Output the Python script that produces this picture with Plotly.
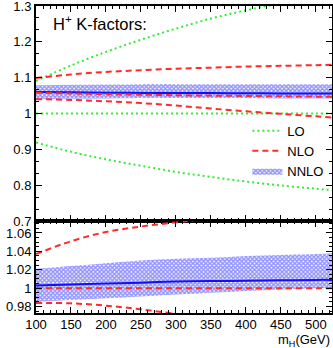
import plotly.graph_objects as go

# m_H grid (GeV)
mass = [100, 150, 200, 250, 300, 350, 400, 450, 500, 523]

# upper panel: K-factors
lo_up = [1.091, 1.134, 1.172, 1.206, 1.237, 1.265, 1.288, 1.308, 1.326, 1.334]
lo_mid = [1.0, 1.0, 1.0, 1.0, 1.0, 1.0, 1.0, 1.0, 1.0, 1.0]
lo_dn = [0.919, 0.893, 0.872, 0.854, 0.837, 0.823, 0.810, 0.799, 0.790, 0.786]
nlo_up = [1.099, 1.109, 1.116, 1.121, 1.125, 1.128, 1.131, 1.133, 1.135, 1.136]
nlo_c = [1.058, 1.056, 1.054, 1.0525, 1.051, 1.050, 1.049, 1.048, 1.047, 1.0465]
nlo_dn = [1.040, 1.038, 1.034, 1.029, 1.022, 1.014, 1.006, 0.999, 0.992, 0.989]
nnlo_c = [1.060, 1.059, 1.058, 1.0575, 1.057, 1.057, 1.0565, 1.056, 1.056, 1.056]
nnlo_lo = [1.040, 1.041, 1.042, 1.043, 1.043, 1.043, 1.043, 1.042, 1.042, 1.042]
nnlo_hi = [1.079, 1.080, 1.081, 1.082, 1.082, 1.082, 1.082, 1.082, 1.082, 1.082]

# lower panel: normalised to NLO central
r_nlo_up = [1.037, 1.051, 1.061, 1.067, 1.0715, 1.076, 1.080, 1.083, 1.086, 1.087]
r_nlo_c = [1.0, 1.0, 1.0, 1.0, 1.0, 1.0, 1.0, 1.0, 1.0, 1.0]
r_nlo_dn = [0.984, 0.9835, 0.981, 0.977, 0.972, 0.966, 0.960, 0.955, 0.950, 0.948]
r_nnlo_c = [1.0028, 1.004, 1.005, 1.006, 1.0072, 1.0078, 1.008, 1.0085, 1.009, 1.009]
r_nnlo_lo = [0.985, 0.987, 0.989, 0.991, 0.993, 0.995, 0.997, 0.9985, 1.0, 1.0005]
r_nnlo_hi = [1.021, 1.024, 1.027, 1.030, 1.032, 1.033, 1.035, 1.036, 1.037, 1.038]

GREEN = "#33ee33"
RED = "#ff2a2a"
BLUE = "#1010ff"
pattern = dict(shape="x", fgcolor="#2a2aff", bgcolor="white", size=3, solidity=0.75)

fig = go.Figure()


def band(lo, hi, xa, ya, show):
    fig.add_trace(go.Scatter(x=mass, y=lo, mode="lines", line=dict(width=0, shape="spline"),
                             xaxis=xa, yaxis=ya, showlegend=False, hoverinfo="skip"))
    fig.add_trace(go.Scatter(x=mass, y=hi, mode="lines", line=dict(width=0, shape="spline"),
                             fill="tonexty", fillcolor="rgba(60,60,255,0.7)", fillpattern=pattern,
                             xaxis=xa, yaxis=ya, name="NNLO", showlegend=show,
                             legendrank=3, legendgroup="nnlo"))


def curve(y, color, dash, xa, ya, name=None, rank=1):
    fig.add_trace(go.Scatter(x=mass, y=y, mode="lines",
                             line=dict(color=color, width=2, dash=dash, shape="spline"),
                             xaxis=xa, yaxis=ya, name=name, showlegend=name is not None,
                             legendrank=rank, legendgroup=name))


# upper panel
band(nnlo_lo, nnlo_hi, "x", "y", True)
curve(nnlo_c, BLUE, "solid", "x", "y")
curve(lo_up, GREEN, "2px,3px", "x", "y")
curve(lo_mid, GREEN, "2px,3px", "x", "y", "LO", 1)
curve(lo_dn, GREEN, "2px,3px", "x", "y")
curve(nlo_up, RED, "6px,4px", "x", "y")
curve(nlo_c, RED, "6px,4px", "x", "y", "NLO", 2)
curve(nlo_dn, RED, "6px,4px", "x", "y")

# lower panel
band(r_nnlo_lo, r_nnlo_hi, "x2", "y2", False)
curve(r_nnlo_c, BLUE, "solid", "x2", "y2")
curve(r_nlo_up, RED, "6px,4px", "x2", "y2")
curve(r_nlo_c, RED, "6px,4px", "x2", "y2")
curve(r_nlo_dn, RED, "6px,4px", "x2", "y2")

split = 92 / 307
ax = dict(showline=True, linecolor="black", linewidth=2, mirror="allticks", ticks="inside",
          tickcolor="black", tickwidth=1, showgrid=False, zeroline=False, automargin=False,
          ticklabeloverflow="allow",
          tickfont=dict(family="Liberation Sans, Arial", size=13, color="black"))

fig.update_layout(
    width=333, height=348,
    margin=dict(l=36, r=1, t=6, b=35),
    paper_bgcolor="white", plot_bgcolor="white",
    font=dict(family="Liberation Sans, Arial", size=13, color="black"),
    xaxis=dict(ax, domain=[0, 1], range=[100, 523], anchor="y", dtick=50, ticklen=6,
               showticklabels=False, minor=dict(dtick=10, ticklen=3, ticks="inside", tickcolor="black")),
    yaxis=dict(ax, domain=[split, 1], range=[0.6999, 1.3001], anchor="x", tick0=0.7, dtick=0.1,
               ticklen=6, minor=dict(dtick=0.1 / 3, ticklen=3, ticks="inside", tickcolor="black")),
    xaxis2=dict(ax, domain=[0, 1], range=[100, 523], anchor="y2", dtick=50, ticklen=6,
                ticklabelstandoff=-2,
                minor=dict(dtick=10, ticklen=3, ticks="inside", tickcolor="black")),
    yaxis2=dict(ax, domain=[0, split], range=[0.973, 1.073], anchor="x2", dtick=0.02, ticklen=6,
                minor=dict(dtick=0.005, ticklen=3, ticks="inside", tickcolor="black")),
    legend=dict(x=0.714, y=0.642, xanchor="left", yanchor="top", bgcolor="rgba(0,0,0,0)",
                font=dict(size=13), tracegroupgap=5, itemwidth=30, traceorder="normal"),
    showlegend=True,
)

fig.add_annotation(text="H<sup>+</sup> K-factors:", xref="paper", yref="paper", x=0.05, y=0.985,
                   xanchor="left", yanchor="top", showarrow=False, font=dict(size=16.5))
fig.add_annotation(text="m<sub>H</sub>(GeV)", xref="paper", yref="paper", x=1, y=0, yshift=-17,
                   xanchor="right", yanchor="top", showarrow=False, font=dict(size=13))

# page body has a default 8px margin; drop it so the figure sits at the window corner
fig.write_html("out.html", config={"displayModeBar": False},
               post_script="document.body.style.margin='0';")
